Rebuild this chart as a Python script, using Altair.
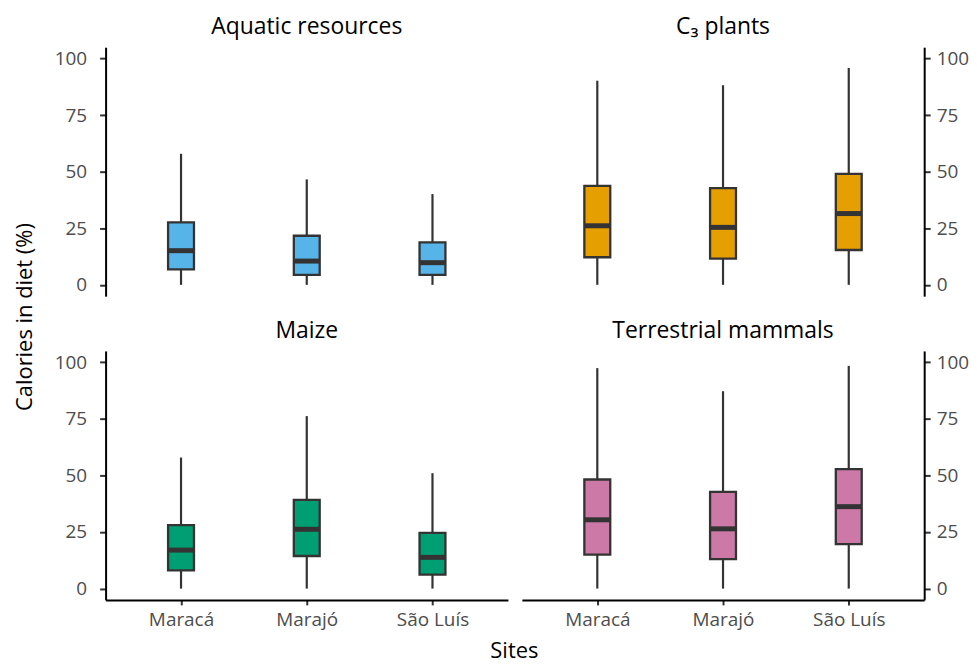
import altair as alt
import pandas as pd

sites = ["Maracá", "Marajó", "São Luís"]

aquatic_min = [0, 0, 0]
aquatic_q1 = [6.8, 4.4, 4.4]
aquatic_med = [15.1, 10.5, 9.8]
aquatic_q3 = [27.6, 21.7, 18.8]
aquatic_max = [57.9, 46.6, 40.1]

c3_min = [0, 0, 0]
c3_q1 = [12.2, 11.6, 15.4]
c3_med = [26.1, 25.4, 31.5]
c3_q3 = [43.7, 42.7, 49.0]
c3_max = [90.2, 88.2, 95.8]

maize_min = [0, 0, 0]
maize_q1 = [8.0, 14.4, 6.2]
maize_med = [17.0, 26.2, 13.8]
maize_q3 = [28.0, 39.2, 24.6]
maize_max = [57.9, 76.2, 51.0]

terr_min = [0, 0, 0]
terr_q1 = [15.0, 13.0, 19.6]
terr_med = [30.4, 26.4, 36.2]
terr_q3 = [48.2, 42.7, 52.8]
terr_max = [97.4, 87.2, 98.4]

y_ticks = [0, 25, 50, 75, 100]

FONT = "Open Sans"
W, H = 404, 250
BOXW = 26
LINE = "#333333"


def panel(title, color, mn, q1, med, q3, mx, y_orient, show_x):
    df = pd.DataFrame({"site": sites, "mn": mn, "q1": q1, "med": med, "q3": q3, "mx": mx})
    xscale = alt.Scale(type="point", padding=0.6)
    if show_x:
        xaxis = alt.Axis(title=None, labelAngle=0, labelFontSize=19, labelColor="#4d4d4d",
                         labelFont=FONT, domainColor="black", domainWidth=2,
                         tickColor=LINE, tickWidth=2, tickSize=5, labelPadding=6)
        x = alt.X("site:N", sort=sites, axis=xaxis, scale=xscale)
    else:
        x = alt.X("site:N", sort=sites, axis=None, scale=xscale)
    yaxis = alt.Axis(title=None, orient=y_orient, values=y_ticks, labelFontSize=19,
                     labelColor="#4d4d4d", labelFont=FONT, domainColor="black",
                     domainWidth=2, tickColor=LINE, tickWidth=2, tickSize=6,
                     labelPadding=13 if y_orient == "left" else 6, grid=False)
    yscale = alt.Scale(domain=[-5, 105], nice=False, zero=False)
    base = alt.Chart(df)
    whisk = base.mark_rule(color=LINE, strokeWidth=2.2).encode(
        x=x, y=alt.Y("mn:Q", scale=yscale, axis=yaxis), y2="mx:Q")
    box = base.mark_bar(size=BOXW, fill=color, stroke=LINE, strokeWidth=2.3).encode(
        x=x, y=alt.Y("q1:Q", scale=yscale, axis=yaxis), y2="q3:Q")
    medl = base.mark_tick(size=BOXW, thickness=5, color=LINE, opacity=1).encode(
        x=x, y=alt.Y("med:Q", scale=yscale, axis=yaxis))
    return alt.layer(whisk, box, medl).properties(
        width=W, height=H,
        title=alt.TitleParams(title, fontSize=23, font=FONT, fontWeight="normal",
                              color="black", anchor="middle", offset=8))


pA = panel("Aquatic resources", "#56B4E9", aquatic_min, aquatic_q1, aquatic_med,
           aquatic_q3, aquatic_max, "left", False)
pC = panel("C\u2083 plants", "#E69F00", c3_min, c3_q1, c3_med, c3_q3, c3_max, "right", False)
pM = panel("Maize", "#009E73", maize_min, maize_q1, maize_med, maize_q3, maize_max,
           "left", True)
pT = panel("Terrestrial mammals", "#CC79A7", terr_min, terr_q1, terr_med, terr_q3,
           terr_max, "right", True)

row1 = alt.hconcat(pA, pC, spacing=14)
row2 = alt.hconcat(pM, pT, spacing=14)
grid = alt.vconcat(row1, row2, spacing=24).properties(
    title=alt.TitleParams("Calories in diet (%)", orient="left", anchor="middle",
                          fontSize=22, font=FONT, fontWeight="normal", color="black",
                          offset=17, dx=6))

chart = alt.vconcat(grid).properties(
    title=alt.TitleParams("Sites", orient="bottom", anchor="middle", fontSize=22,
                          font=FONT, fontWeight="normal", color="black", offset=11, dx=23),
    padding={"left": 6, "top": 7, "right": 0, "bottom": 0},
).configure_view(stroke=None).configure_concat(spacing=14)

chart.save("out.html", embed_options={"renderer": "svg", "actions": False})
